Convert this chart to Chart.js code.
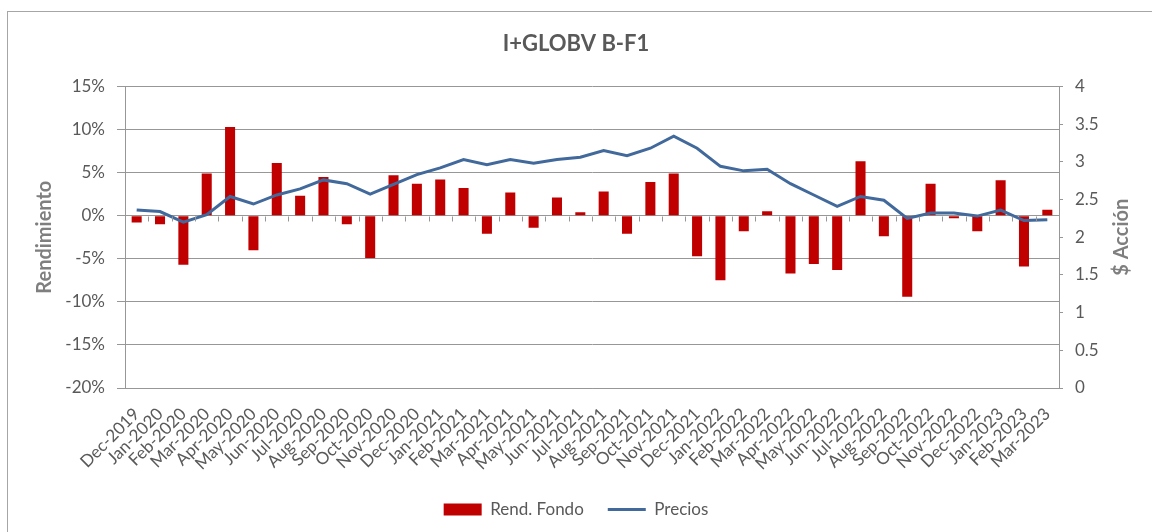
<!DOCTYPE html>
<html>
<head>
<meta charset="utf-8">
<script src="https://cdn.jsdelivr.net/npm/chart.js@4.4.1/dist/chart.umd.min.js"></script>
<style>
  html, body { margin: 0; padding: 0; background: #fff; }
  #wrap { width: 1152px; height: 532px; }
</style>
</head>
<body>
<div id="wrap"><canvas id="myChart" width="1152" height="532"></canvas></div>
<script>
const months = [
    'Dec-2019', 'Jan-2020', 'Feb-2020', 'Mar-2020', 'Apr-2020', 'May-2020', 'Jun-2020', 'Jul-2020',
    'Aug-2020', 'Sep-2020', 'Oct-2020', 'Nov-2020', 'Dec-2020', 'Jan-2021', 'Feb-2021', 'Mar-2021',
    'Apr-2021', 'May-2021', 'Jun-2021', 'Jul-2021', 'Aug-2021', 'Sep-2021', 'Oct-2021', 'Nov-2021',
    'Dec-2021', 'Jan-2022', 'Feb-2022', 'Mar-2022', 'Apr-2022', 'May-2022', 'Jun-2022', 'Jul-2022',
    'Aug-2022', 'Sep-2022', 'Oct-2022', 'Nov-2022', 'Dec-2022', 'Jan-2023', 'Feb-2023', 'Mar-2023'
];

// monthly fund return, %
const rendFondo = [
    -0.8, -1.0, -5.7, 4.9, 10.3, -4.0, 6.1, 2.3, 4.5, -1.0,
    -4.9, 4.7, 3.7, 4.2, 3.2, -2.1, 2.7, -1.4, 2.1, 0.4,
    2.8, -2.1, 3.9, 4.9, -4.7, -7.5, -1.8, 0.5, -6.7, -5.6,
    -6.3, 6.3, -2.4, -9.4, 3.7, -0.3, -1.8, 4.1, -5.9, 0.7
];

// share price, $
const precios = [
    2.36, 2.34, 2.20, 2.30, 2.54, 2.44, 2.56, 2.64, 2.76, 2.71,
    2.57, 2.70, 2.83, 2.92, 3.03, 2.96, 3.03, 2.98, 3.03, 3.06,
    3.15, 3.08, 3.18, 3.34, 3.18, 2.94, 2.88, 2.90, 2.71, 2.56,
    2.41, 2.54, 2.49, 2.25, 2.32, 2.32, 2.28, 2.36, 2.22, 2.23
];

const gridGrey = '#979797';
const textGrey = '#595959';
const titleGrey = '#7f7f7f';
const tickSize = 17;

Chart.defaults.font.family = 'Lato, "Open Sans", sans-serif';
Chart.defaults.color = textGrey;

// frame, category tick marks on the 0% line, right axis title (bottom-to-top like the left one)
const decor = {
    id: 'decor',
    beforeDraw(chart) {
        const ctx = chart.ctx;
        ctx.save();
        ctx.strokeStyle = '#a6a6a6';
        ctx.lineWidth = 1;
        ctx.strokeRect(7.5, 11.5, chart.width + 20, chart.height + 20);
        ctx.restore();
    },
    afterDatasetsDraw(chart) {
        const ctx = chart.ctx;
        const xs = chart.scales.x;
        const zero = Math.round(chart.scales.y.getPixelForValue(0)) + 0.5;
        const step = xs.getPixelForValue(1) - xs.getPixelForValue(0);
        ctx.save();
        ctx.strokeStyle = gridGrey;
        ctx.lineWidth = 1;
        ctx.beginPath();
        for (let i = 0; i <= months.length; i++) {
            const px = Math.round(xs.getPixelForValue(i) - step / 2) + 0.5;
            ctx.moveTo(px, zero);
            ctx.lineTo(px, zero + 5);
        }
        ctx.stroke();
        ctx.restore();
    },
    afterDraw(chart) {
        const ctx = chart.ctx;
        const area = chart.chartArea;
        ctx.save();
        ctx.translate(area.right + 63, (area.top + area.bottom) / 2);
        ctx.rotate(-Math.PI / 2);
        ctx.font = 'bold 20px Lato, "Open Sans", sans-serif';
        ctx.fillStyle = titleGrey;
        ctx.textAlign = 'center';
        ctx.textBaseline = 'middle';
        ctx.fillText('$ Acción', 0, 0);
        ctx.restore();
    }
};

new Chart(document.getElementById('myChart'), {
    type: 'bar',
    data: {
        labels: months,
        datasets: [
            {
                label: 'Rend. Fondo',
                data: rendFondo,
                backgroundColor: '#c00000',
                yAxisID: 'y',
                barPercentage: 0.43,
                categoryPercentage: 1,
                pointStyle: 'rect',
                order: 2
            },
            {
                type: 'line',
                label: 'Precios',
                data: precios,
                borderColor: '#41699b',
                backgroundColor: '#41699b',
                borderWidth: 3,
                pointRadius: 0,
                tension: 0,
                yAxisID: 'y1',
                pointStyle: 'line',
                order: 1
            }
        ]
    },
    plugins: [decor],
    options: {
        responsive: false,
        animation: false,
        devicePixelRatio: 1,
        layout: { padding: { left: 0, right: 0, top: 0, bottom: 4 } },
        plugins: {
            title: {
                display: true,
                text: 'I+GLOBV B-F1',
                color: textGrey,
                font: { size: 22, weight: 'bold' },
                padding: { top: 31, bottom: 29 }
            },
            legend: {
                position: 'bottom',
                labels: {
                    usePointStyle: true,
                    pointStyleWidth: 38,
                    boxHeight: 12,
                    color: textGrey,
                    font: { size: tickSize },
                    padding: 24,
                    sort: (a, b) => a.datasetIndex - b.datasetIndex
                }
            },
            tooltip: { enabled: false }
        },
        scales: {
            x: {
                position: 'bottom',
                offset: true,
                grid: { display: false },
                border: { display: true, color: gridGrey },
                ticks: {
                    autoSkip: false,
                    minRotation: 45,
                    maxRotation: 45,
                    padding: 8,
                    color: textGrey,
                    font: { size: tickSize }
                },
                afterFit: s => { s.height = 89; }
            },
            y: {
                position: 'left',
                min: -20,
                max: 15,
                grid: { color: gridGrey, tickLength: 8 },
                border: { display: true, color: gridGrey },
                ticks: {
                    stepSize: 5,
                    padding: 12,
                    color: textGrey,
                    font: { size: tickSize },
                    callback: v => v + '%'
                },
                title: {
                    display: true,
                    text: 'Rendimiento',
                    color: titleGrey,
                    font: { size: 20, weight: 'bold' },
                    padding: { top: 33, bottom: 0 }
                },
                afterFit: s => { s.width = 125; }
            },
            y1: {
                position: 'right',
                min: 0,
                max: 4,
                grid: { drawOnChartArea: false, tickLength: 4, color: gridGrey },
                border: { display: true, color: gridGrey },
                ticks: {
                    stepSize: 0.5,
                    padding: 12,
                    color: textGrey,
                    font: { size: tickSize },
                    callback: v => String(v)
                },
                afterFit: s => { s.width = 93; }
            }
        }
    }
});
</script>
</body>
</html>
